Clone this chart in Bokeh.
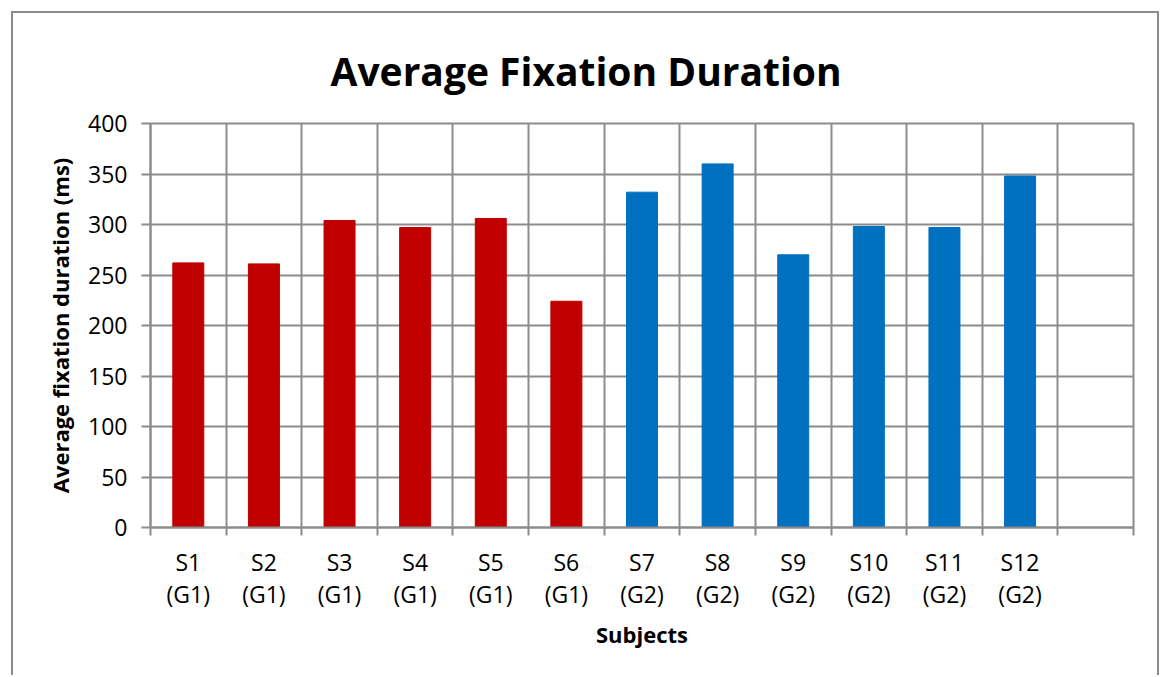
from bokeh.plotting import figure
from bokeh.models import Range1d, FixedTicker
from bokeh.embed import file_html
from bokeh.resources import INLINE

subjects = ["S1", "S2", "S3", "S4", "S5", "S6", "S7", "S8", "S9", "S10", "S11", "S12"]
groups = ["G1", "G1", "G1", "G1", "G1", "G1", "G2", "G2", "G2", "G2", "G2", "G2"]
durations = [262, 261, 304, 297, 306, 224, 332, 360, 270, 298, 297, 348]
group_colors = {"G1": "#C00000", "G2": "#0070C0"}
y_ticks = [0, 50, 100, 150, 200, 250, 300, 350, 400]
n_slots = 13  # one empty slot at the end, as in the reference

GRID = "#8c8c8c"
FONT = "Open Sans"

xs = list(range(len(subjects)))
colors = [group_colors[g] for g in groups]
bounds = [i - 0.5 for i in range(n_slots + 1)]

p = figure(width=1148, height=664,
           x_range=Range1d(-0.5, n_slots - 0.5), y_range=Range1d(0, 400),
           output_backend="svg", toolbar_location=None,
           min_border_left=137, min_border_right=28,
           min_border_top=110, min_border_bottom=150)
p.styles = {"margin": "11px 0 0 11px",
            "border-top": "2px solid #8c8c8c",
            "border-left": "2px solid #8c8c8c",
            "border-right": "2px solid #8c8c8c"}

p.vbar(x=xs, top=durations, width=0.41, color=colors)

p.outline_line_color = GRID
p.outline_line_width = 2

# title
p.title.text = "Average Fixation Duration"
p.title.text_font = FONT
p.title.text_font_style = "bold"
p.title.text_font_size = "39px"
p.title.text_color = "black"
p.title.align = "left"
p.title.offset = 180
p.title.standoff = 54

# x axis
p.xaxis.ticker = FixedTicker(ticks=xs, minor_ticks=bounds)
p.xaxis.major_label_overrides = {i: f"{s}\n({g})" for i, (s, g) in enumerate(zip(subjects, groups))}
p.xaxis.major_tick_out = 0
p.xaxis.major_tick_in = 0
p.xaxis.minor_tick_out = 8
p.xaxis.minor_tick_in = 0
p.xaxis.minor_tick_line_color = GRID
p.xaxis.minor_tick_line_width = 2
p.xaxis.axis_label = "Subjects"
p.xgrid.ticker = FixedTicker(ticks=bounds)

# y axis
p.yaxis.ticker = FixedTicker(ticks=y_ticks)
p.yaxis.major_tick_out = 9
p.yaxis.major_tick_in = 0
p.yaxis.minor_tick_line_color = None
p.yaxis.major_tick_line_color = GRID
p.yaxis.major_tick_line_width = 2
p.yaxis.axis_label = "Average fixation duration (ms)"
p.ygrid.ticker = FixedTicker(ticks=y_ticks)

for ax in (p.xaxis[0], p.yaxis[0]):
    ax.axis_line_color = GRID
    ax.axis_line_width = 2
    ax.major_label_text_font = FONT
    ax.major_label_text_font_size = "23px"
    ax.major_label_text_color = "black"
    ax.major_label_text_line_height = 1.0
    ax.axis_label_text_font = FONT
    ax.axis_label_text_font_style = "bold"
    ax.axis_label_text_font_size = "22px"
    ax.axis_label_text_color = "black"

p.xaxis.major_label_standoff = 10
p.xaxis.axis_label_standoff = 6
p.yaxis.major_label_standoff = 14
p.yaxis.axis_label_standoff = 10

for g in (p.xgrid[0], p.ygrid[0]):
    g.grid_line_color = GRID
    g.grid_line_width = 2

open("out.html", "w").write(file_html(p, INLINE))
